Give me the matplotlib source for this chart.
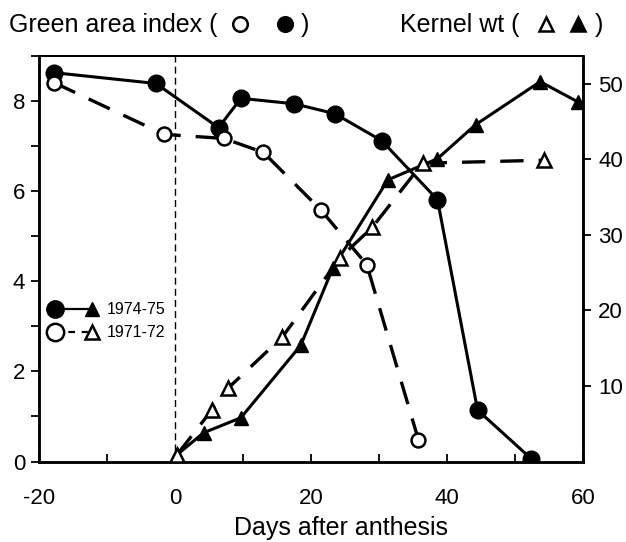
import matplotlib
matplotlib.use("Agg")
import matplotlib.pyplot as plt
from matplotlib.lines import Line2D
from matplotlib.ticker import MultipleLocator

plt.rcParams["font.family"] = ["Liberation Sans", "DejaVu Sans"]

# green area index, 1974-75 (filled circles, solid)
gai_7475_days = [-17.8, -2.8, 6.4, 9.7, 17.5, 23.5, 30.4, 38.6, 44.5, 52.4]
gai_7475 = [8.63, 8.39, 7.41, 8.06, 7.94, 7.72, 7.12, 5.81, 1.14, 0.06]

# green area index, 1971-72 (open circles, dashed)
gai_7172_days = [-17.8, -1.6, 7.2, 13.0, 21.4, 28.2, 35.8]
gai_7172 = [8.41, 7.26, 7.17, 6.86, 5.59, 4.37, 0.48]

# kernel weight, 1974-75 (filled triangles, solid)
kw_7475_days = [0.3, 4.2, 9.7, 18.5, 23.2, 31.3, 38.6, 44.2, 53.7, 59.3]
kw_7475 = [0.9, 3.8, 5.8, 15.4, 25.6, 37.3, 40.1, 44.6, 50.3, 47.6]

# kernel weight, 1971-72 (open triangles, dashed)
kw_7172_days = [0.3, 5.4, 7.8, 15.8, 24.3, 29.0, 36.4, 54.2]
kw_7172 = [0.9, 6.8, 9.7, 16.5, 27.0, 31.0, 39.5, 39.9]

x_ticks = [-20, 0, 20, 40, 60]
left_ticks = [0, 2, 4, 6, 8]
right_ticks = [10, 20, 30, 40, 50]

INK = "black"
DASH = (0, (7, 4.5))
W, H = 626, 542


def fx(px):
    return px / W


def fy(py):
    return 1 - py / H


fig = plt.figure(figsize=(6.26, 5.42), dpi=100)
ax = fig.add_axes([fx(39), fy(461.5), 544 / W, 405.5 / H])
ax2 = ax.twinx()

ax.axvline(0, color=INK, lw=1.0, ls=(0, (5, 3)), zorder=1)

ax.plot(gai_7475_days, gai_7475, color=INK, lw=2.2, marker="o", ms=12,
        mfc=INK, mec=INK, zorder=3)
ax.plot(gai_7172_days, gai_7172, color=INK, lw=2.4, ls=DASH, marker="o", ms=10,
        mfc="white", mec=INK, mew=1.8, zorder=3)
ax2.plot(kw_7475_days, kw_7475, color=INK, lw=2.2, marker="^", ms=10.5,
         mfc=INK, mec=INK, zorder=3)
ax2.plot(kw_7172_days, kw_7172, color=INK, lw=2.4, ls=DASH, marker="^", ms=10.5,
         mfc="white", mec=INK, mew=1.8, zorder=3)

ax.set_xlim(-20, 60)
ax.set_ylim(0, 9.0)
ax2.set_ylim(0, 53.7)

ax.set_xticks(x_ticks)
ax.set_xticklabels([str(v) for v in x_ticks])
ax.xaxis.set_minor_locator(MultipleLocator(10))
ax.set_yticks(left_ticks)
ax.yaxis.set_minor_locator(MultipleLocator(1))
ax2.set_yticks(right_ticks)

ax.tick_params(axis="x", which="both", direction="in", length=6, width=1.3,
               labelsize=16, pad=19)
ax.tick_params(axis="y", which="both", direction="out", length=6, width=1.3,
               labelsize=16, pad=4)
ax2.tick_params(axis="y", direction="out", length=6, width=1.3, labelsize=16, pad=5)

for a in (ax, ax2):
    for side in a.spines.values():
        side.set_linewidth(1.8)
    a.spines["top"].set_linewidth(1.3)

# legend drawn by hand, as in the original
tr = ax.transAxes
ax.plot([0.029, 0.097], [0.376, 0.376], transform=tr, color=INK, lw=1.6, zorder=4)
ax.plot([0.029], [0.376], transform=tr, marker="o", ms=12.5, color=INK, zorder=5)
ax.plot([0.097], [0.376], transform=tr, marker="^", ms=10.5, color=INK, zorder=5)
ax.plot([0.029, 0.097], [0.319, 0.319], transform=tr, color=INK, lw=1.6,
        ls=(0, (3, 3)), zorder=4)
ax.plot([0.029], [0.319], transform=tr, marker="o", ms=12.5, mfc="white",
        mec=INK, mew=1.8, zorder=5)
ax.plot([0.097], [0.319], transform=tr, marker="^", ms=10.5, mfc="white",
        mec=INK, mew=1.8, zorder=5)
ax.text(0.124, 0.376, "1974-75", transform=tr, fontsize=11.5, va="center")
ax.text(0.124, 0.319, "1971-72", transform=tr, fontsize=11.5, va="center")

# header: text pieces with marker symbols
ty = fy(25)
fig.text(fx(9), ty, "Green area index (", fontsize=18, va="center", ha="left")
fig.text(fx(305), ty, ")", fontsize=18, va="center", ha="center")
fig.text(fx(400), ty, "Kernel wt (", fontsize=18, va="center", ha="left")
fig.text(fx(599), ty, ")", fontsize=18, va="center", ha="center")
header_marks = [(240, "o", "white"), (285, "o", INK), (546, "^", "white"), (578, "^", INK)]
for px, mk, face in header_marks:
    fig.add_artist(Line2D([fx(px)], [ty + 0.002], transform=fig.transFigure, marker=mk,
                          ms=10.5 if mk == "o" else 10, mfc=face, mec=INK, mew=1.8,
                          ls="none"))

fig.text(fx(341), fy(528), "Days after anthesis", fontsize=18,
         va="center", ha="center")

fig.savefig("out.png", dpi=100, facecolor="white")
